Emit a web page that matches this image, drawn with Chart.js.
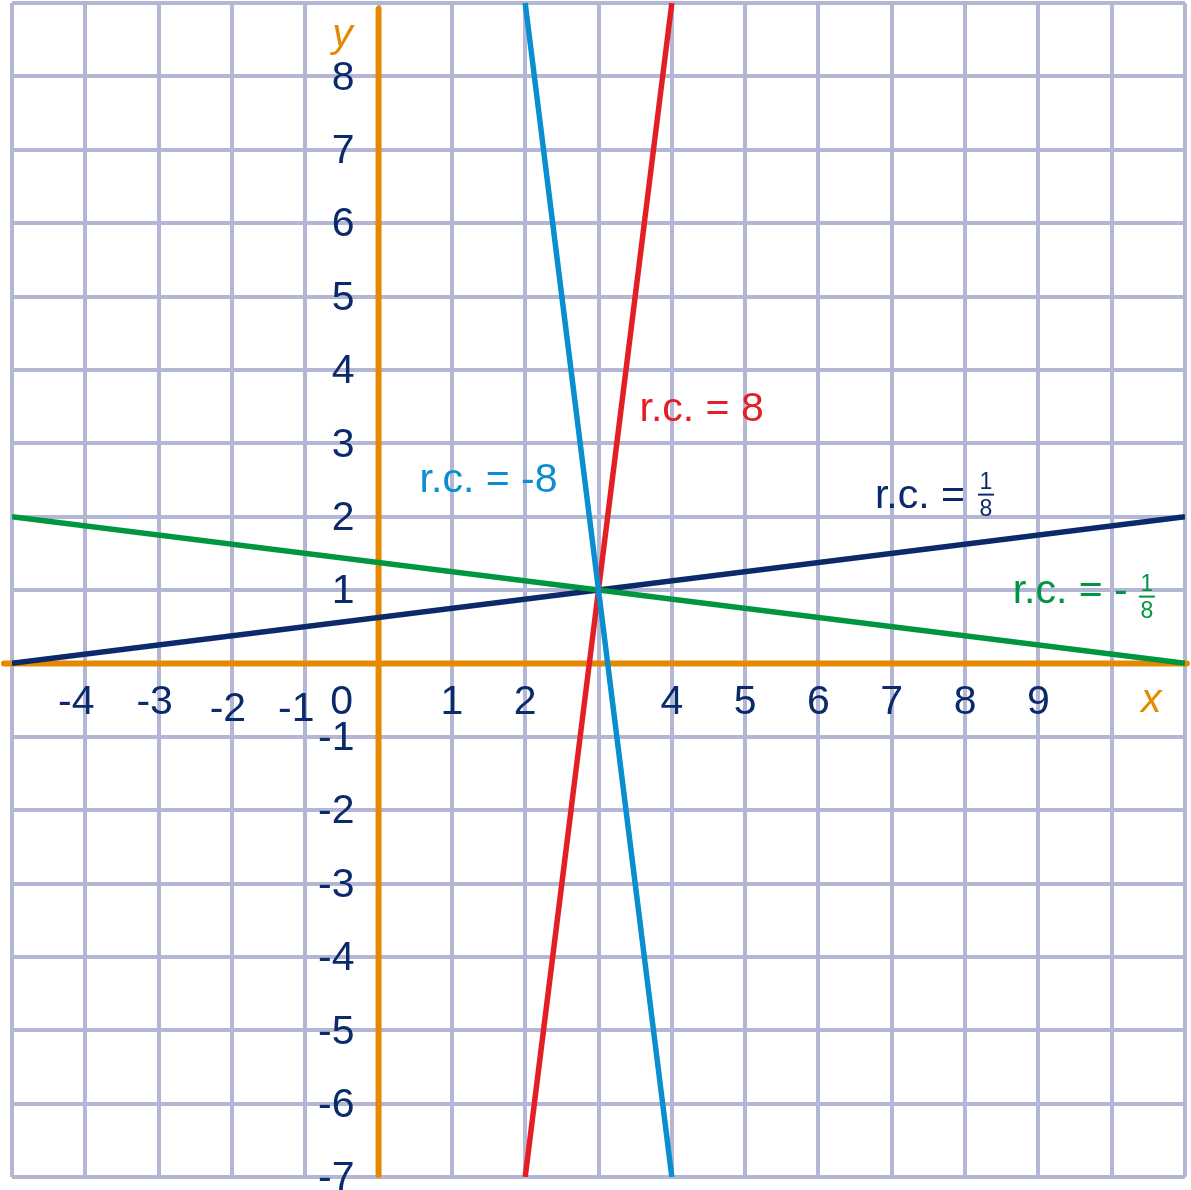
<!DOCTYPE html>
<html lang="nl">

<head>
  <meta charset="UTF-8">
  <title>Richtingscoëfficiënt</title>
  <script src="https://cdn.jsdelivr.net/npm/chart.js"></script>
  <style>
    body { margin: 0; background: #fff; }
    .chart-box { width: 1191px; height: 1190px; }
  </style>
</head>

<body>
  <div class="chart-box">
    <canvas id="rcChart"></canvas>
  </div>

  <script>
    // axis range and tick labels
    const xRange = [-5, 11];
    const yRange = [-7, 9];
    const xTickLabels = [-4, -3, -2, -1, 0, 1, 2, 4, 5, 6, 7, 8, 9];
    const yTickLabels = [8, 7, 6, 5, 4, 3, 2, 1, -1, -2, -3, -4, -5, -6, -7];

    // line end points (x, y)
    const redX = [2, 4];
    const redY = [-7, 9];
    const blueX = [2, 4];
    const blueY = [9, -7];
    const navyX = [-5, 11];
    const navyY = [0, 2];
    const greenX = [-5, 11];
    const greenY = [2, 0];

    const NAVY = '#0b2a6b';
    const ORANGE = '#e48a00';
    const GRID = '#b3b7d5';
    const RED = '#e31f26';
    const BLUE = '#0a8ed0';
    const GREEN = '#00963f';
    const FONT = '"Liberation Sans", Arial, sans-serif';

    const toPoints = (xs, ys) => xs.map((x, i) => ({ x: x, y: ys[i] }));

    function lineSet(label, xs, ys, color) {
      return {
        label: label,
        data: toPoints(xs, ys),
        showLine: true,
        borderColor: color,
        borderWidth: 5.5,
        pointRadius: 0,
        fill: false,
      };
    }

    // orange axes under the lines
    const axesPlugin = {
      id: 'axes',
      beforeDatasetsDraw(chart) {
        const { ctx, chartArea, scales: { x, y } } = chart;
        const x0 = x.getPixelForValue(0);
        const y0 = y.getPixelForValue(0);
        ctx.save();
        ctx.strokeStyle = ORANGE;
        ctx.lineWidth = 6;
        ctx.lineCap = 'round';
        ctx.beginPath();
        ctx.moveTo(chartArea.left - 8, y0);
        ctx.lineTo(chartArea.right + 2, y0);
        ctx.moveTo(x0, chartArea.top + 6);
        ctx.lineTo(x0, chartArea.bottom - 2);
        ctx.stroke();
        ctx.restore();
      }
    };

    function drawFraction(ctx, cx, cy, color) {
      ctx.save();
      ctx.fillStyle = color;
      ctx.strokeStyle = color;
      ctx.font = '23px ' + FONT;
      ctx.textAlign = 'center';
      ctx.textBaseline = 'middle';
      ctx.fillText('1', cx, cy - 12);
      ctx.fillText('8', cx, cy + 15);
      ctx.lineWidth = 2;
      ctx.beginPath();
      ctx.moveTo(cx - 8, cy);
      ctx.lineTo(cx + 8, cy);
      ctx.stroke();
      ctx.restore();
    }

    // tick labels, axis names and slope labels
    const labelPlugin = {
      id: 'labels',
      afterDraw(chart) {
        const { ctx, scales: { x, y } } = chart;
        const x0 = x.getPixelForValue(0);
        const y0 = y.getPixelForValue(0);
        ctx.save();
        ctx.font = '41px ' + FONT;
        ctx.fillStyle = NAVY;
        ctx.textBaseline = 'middle';

        ctx.textAlign = 'right';
        yTickLabels.forEach(v => {
          ctx.fillText(String(v), x0 - 24, y.getPixelForValue(v) + 2);
        });

        ctx.textAlign = 'center';
        xTickLabels.forEach(v => {
          let dx = 0, dy = 39;
          if (v < 0) dx = -4;
          if (v === -4 || v === -1) dx = -9;
          if (v === -2 || v === -1) dy = 46;
          if (v === 0) dx = -37;
          ctx.fillText(String(v), x.getPixelForValue(v) + dx, y0 + dy);
        });

        ctx.fillStyle = ORANGE;
        ctx.font = 'italic 41px ' + FONT;
        ctx.fillText('y', x0 - 36, 36);
        ctx.fillText('x', x.getPixelForValue(10.5) + 3, y0 + 37);

        ctx.font = '41px ' + FONT;
        ctx.textAlign = 'left';
        ctx.fillStyle = RED;
        ctx.fillText('r.c. = 8', x.getPixelForValue(3.56), y.getPixelForValue(3.46));
        ctx.fillStyle = BLUE;
        ctx.fillText('r.c. = -8', x.getPixelForValue(0.56), y.getPixelForValue(2.49));
        ctx.fillStyle = NAVY;
        ctx.fillText('r.c. =', x.getPixelForValue(6.77), y.getPixelForValue(2.27));
        ctx.fillStyle = GREEN;
        ctx.fillText('r.c. = -', x.getPixelForValue(8.65), y.getPixelForValue(0.98));
        ctx.restore();

        drawFraction(ctx, x.getPixelForValue(8.285), y.getPixelForValue(2.3), NAVY);
        drawFraction(ctx, x.getPixelForValue(10.48), y.getPixelForValue(0.91), GREEN);
      }
    };

    const gridAxis = (range) => ({
      type: 'linear',
      min: range[0],
      max: range[1],
      ticks: { display: false, stepSize: 1 },
      grid: { color: GRID, lineWidth: 4, drawTicks: false },
      border: { display: false },
    });

    // first dataset ends up on top
    new Chart(document.getElementById('rcChart'), {
      type: 'scatter',
      data: {
        datasets: [
          lineSet('r.c. = -8', blueX, blueY, BLUE),
          lineSet('r.c. = 8', redX, redY, RED),
          lineSet('r.c. = -1/8', greenX, greenY, GREEN),
          lineSet('r.c. = 1/8', navyX, navyY, NAVY),
        ],
      },
      options: {
        responsive: true,
        maintainAspectRatio: false,
        animation: false,
        layout: { padding: { left: 12, top: 3, right: 6, bottom: 13 } },
        plugins: {
          legend: { display: false },
          tooltip: { enabled: false },
        },
        scales: {
          x: gridAxis(xRange),
          y: gridAxis(yRange),
        },
      },
      plugins: [axesPlugin, labelPlugin],
    });
  </script>
</body>

</html>
